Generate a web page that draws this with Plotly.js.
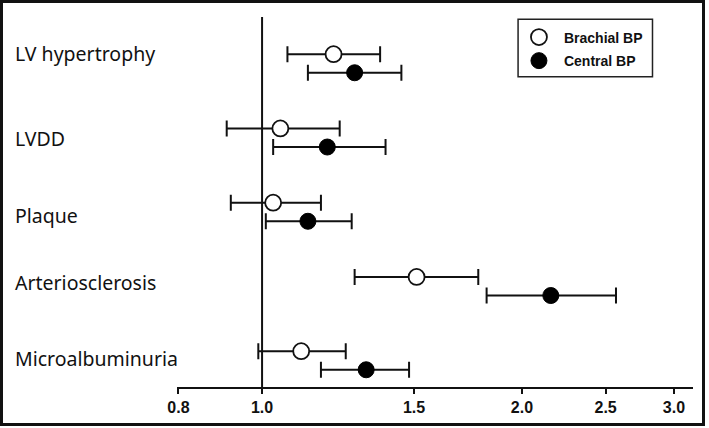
<!DOCTYPE html>
<html>
<head>
<meta charset="utf-8">
<script src="https://cdn.plot.ly/plotly-3.0.1.min.js"></script>
<style>
  body { margin: 0; background: #fff; }
  #frame { position: absolute; left: 0; top: 0; width: 705px; height: 426px;
           box-sizing: border-box; border: 3px solid #111; background: #fff; }
  #chart { width: 699px; height: 420px; }
</style>
</head>
<body>
<div id="frame"><div id="chart"></div></div>
<script>
// odds ratios with 95% CI
var outcomes = ["LV hypertrophy", "LVDD", "Plaque", "Arteriosclerosis", "Microalbuminuria"];

var brachialOR = [1.21, 1.05, 1.03, 1.51, 1.11];
var brachialLo = [1.07, 0.91, 0.92, 1.28, 0.99];
var brachialHi = [1.37, 1.23, 1.17, 1.78, 1.25];

var centralOR = [1.28, 1.19, 1.13, 2.16, 1.32];
var centralLo = [1.13, 1.03, 1.01, 1.82, 1.17];
var centralHi = [1.45, 1.39, 1.27, 2.57, 1.48];

var tickVals = [0.8, 1.0, 1.5, 2.0, 2.5, 3.0];
var tickText = ["0.8", "1.0", "1.5", "2.0", "2.5", "3.0"];
var refValue = 1.0;

var off = 0.125;  // vertical split between the two series in a row
var labelShift = [10, -1, -4, 4, 2];

function errs(v, lo, hi) {
  return {
    type: "data", symmetric: false,
    array: hi.map((h, i) => h - v[i]),
    arrayminus: lo.map((l, i) => v[i] - l),
    color: "#111", thickness: 2, width: 8
  };
}

var brachial = {
  x: brachialOR,
  y: outcomes.map((c, i) => i - off),
  name: "Brachial BP", legendgroup: "b",
  mode: "markers", type: "scatter",
  marker: { symbol: "circle", size: 16, color: "#fff", line: { color: "#111", width: 1.8 } },
  error_x: errs(brachialOR, brachialLo, brachialHi)
};

var central = {
  x: centralOR,
  y: outcomes.map((c, i) => i + off),
  name: "Central BP", legendgroup: "c",
  mode: "markers", type: "scatter",
  marker: { symbol: "circle", size: 16, color: "#000", line: { color: "#000", width: 1 } },
  error_x: errs(centralOR, centralLo, centralHi)
};

var labels = outcomes.map((c, i) => ({
  text: c, xref: "paper", yref: "y", x: -0.318, y: i,
  xanchor: "left", yanchor: "middle", showarrow: false, yshift: labelShift[i],
  font: { family: "Noto Sans", size: 19.5, color: "#111" }
}));

var layout = {
  width: 699, height: 420,
  margin: { l: 174, r: 9, t: 14, b: 36 },
  paper_bgcolor: "#fff", plot_bgcolor: "#fff",
  showlegend: true,
  legend: {
    x: 0.653, y: 0.988, xanchor: "left", yanchor: "top",
    borderwidth: 0, bgcolor: "rgba(0,0,0,0)",
    traceorder: "grouped", tracegroupgap: 2.4, itemwidth: 40,
    font: { family: "Liberation Sans, Arial", size: 14, weight: "bold", color: "#111" }
  },
  xaxis: {
    type: "log",
    range: [Math.log10(0.797), Math.log10(3.156)],
    tickvals: tickVals, ticktext: tickText,
    ticks: "outside", ticklen: 5, tickwidth: 2, tickcolor: "#111",
    showline: true, linewidth: 2, linecolor: "#111",
    showgrid: false, zeroline: false,
    tickfont: { family: "Liberation Sans, Arial", size: 16, weight: "bold", color: "#111" }
  },
  yaxis: {
    range: [4.357, -0.626],
    showticklabels: false, showgrid: false, zeroline: false, showline: false, ticks: ""
  },
  shapes: [{
    type: "line", xref: "x", yref: "paper", x0: refValue, x1: refValue, y0: 0, y1: 1,
    line: { color: "#111", width: 2 }, layer: "below"
  }, {
    // legend frame
    type: "rect", xref: "paper", yref: "paper", x0: 0.661, x1: 0.9215, y0: 0.8386, y1: 0.9938,
    line: { color: "#222", width: 1.5 }, fillcolor: "rgba(0,0,0,0)"
  }],
  annotations: labels
};

Plotly.newPlot("chart", [brachial, central], layout, { staticPlot: true });
</script>
</body>
</html>
